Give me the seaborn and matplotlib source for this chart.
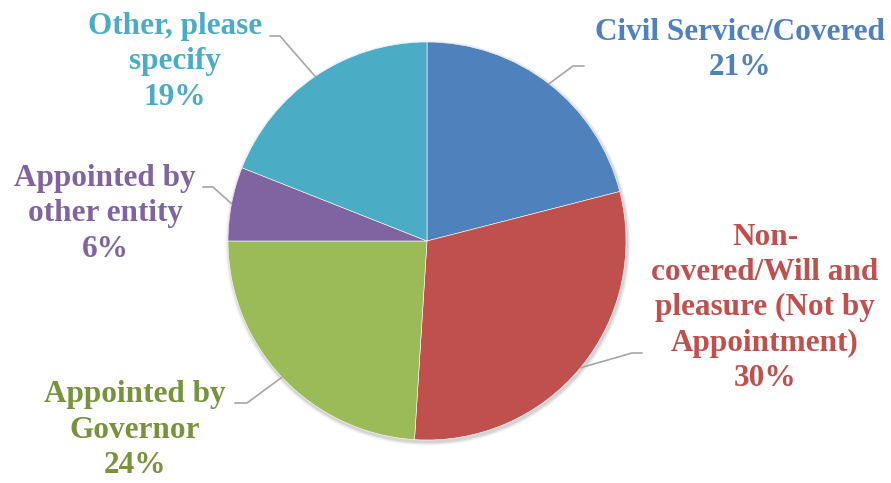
import numpy as np
import seaborn as sns
import matplotlib.pyplot as plt
from matplotlib.patches import Circle

# data
categories = ["Civil Service/Covered",
              "Non-\ncovered/Will and\npleasure (Not by\nAppointment)",
              "Appointed by\nGovernor",
              "Appointed by\nother entity",
              "Other, please\nspecify"]
shares = [21, 30, 24, 6, 19]
slice_colors = ["#4F81BD", "#C0504D", "#9BBB59", "#8064A2", "#4BACC6"]
text_colors = ["#4F81BD", "#C0504D", "#77933C", "#8064A2", "#4BACC6"]

W, H = 891, 483
sns.set_theme(style="white")
plt.rcParams['font.family'] = ['Liberation Serif', 'DejaVu Serif']

fig = plt.figure(figsize=(W / 100, H / 100), dpi=100)
ax = fig.add_axes([0, 0, 1, 1])

cx, cy, r = 427, H - 241, 199

# soft shadow under the pie
for k, a in zip([6, 4, 2], [0.04, 0.06, 0.08]):
    ax.add_patch(Circle((cx + 1, cy - 2), r + k * 0.6, color='black', alpha=a, lw=0, zorder=0))

wedges, _ = ax.pie(shares, colors=slice_colors, startangle=90, counterclock=False,
                   center=(cx, cy), radius=r,
                   wedgeprops=dict(edgecolor='white', linewidth=0.4))
for w in wedges:
    w.set_zorder(2)

ax.set_xlim(0, W)
ax.set_ylim(0, H)
ax.set_aspect('equal')
ax.axis('off')

# label layout: text centre, elbow, line end (pixel coords, y from top)
label_pos = [(740, 50), (765, 308), (135, 430), (105, 214), (175, 62)]
elbows = [((573, 66), (584, 66)), ((632, 353), (642, 353)),
          ((247, 403), (235, 403)), ((213, 187), (203, 187)),
          ((280, 36), (270, 36))]

for w, name, val, col, (tx, ty), (e1, e2) in zip(wedges, categories, shares, text_colors, label_pos, elbows):
    mid = np.deg2rad((w.theta1 + w.theta2) / 2)
    px, py = cx + r * np.cos(mid), cy + r * np.sin(mid)
    ax.plot([px, e1[0], e2[0]], [py, H - e1[1], H - e2[1]], color='#A6A6A6', lw=1.2, zorder=3)
    ax.text(tx, H - ty, f"{name}\n{val}%", ha='center', va='center', color=col,
            fontsize=22.5, fontweight='bold', linespacing=1.28, zorder=4)

fig.savefig("out.png", dpi=100)
